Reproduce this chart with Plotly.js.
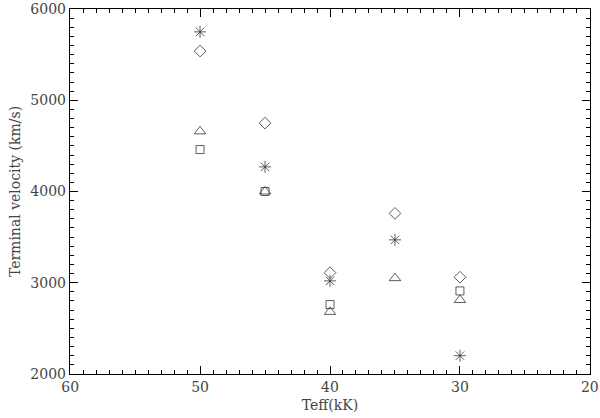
<!DOCTYPE html>
<html>
<head>
<meta charset="utf-8">
<script src="https://cdn.plot.ly/plotly-3.0.1.min.js"></script>
<style>
  html, body { margin: 0; padding: 0; background: #fff; }
  #chart { width: 600px; height: 418px; }
</style>
</head>
<body>
<div id="chart"></div>
<script>
// Teff (kK) for each model
const teff = [50, 45, 40, 35, 30];

// terminal velocities (km/s), one array per marker set
const velAsterisk = [5750, 4270, 3020, 3470, 2200];
const velDiamond  = [5540, 4750, 3110, 3760, 3060];
const velTriangle = [4660, 4000, 2680, 3050, 2810];
const velSquare   = [4460, 4000, 2760, null, 2910];

const ink = '#333';
const fontFam = 'DejaVu Serif, serif';

function serie(y, symbol, size) {
  return {
    x: teff,
    y: y,
    mode: 'markers',
    type: 'scatter',
    marker: { symbol: symbol, size: size, color: ink, line: { color: ink, width: 0.8 } },
    showlegend: false,
    hoverinfo: 'x+y'
  };
}

const traces = [
  serie(velAsterisk, 'asterisk-open', 10),
  serie(velDiamond, 'diamond-open', 9),
  serie(velTriangle, 'triangle-up-open', 10),
  serie(velSquare, 'square-open', 8)
];

const axisBase = {
  showline: true,
  linecolor: '#000',
  linewidth: 1.2,
  mirror: 'allticks',
  ticks: 'inside',
  ticklen: 8,
  tickwidth: 1,
  tickcolor: '#000',
  showgrid: false,
  zeroline: false,
  tickfont: { family: fontFam, size: 14, color: '#444' }
};

const layout = {
  width: 600,
  height: 418,
  margin: { l: 70, r: 10, t: 9, b: 44 },
  paper_bgcolor: '#fff',
  plot_bgcolor: '#fff',
  xaxis: Object.assign({}, axisBase, {
    range: [60.01, 19.99],
    tickvals: [60, 50, 40, 30, 20],
    ticktext: ['60', '50', '40', '30', '20'],
    minor: { dtick: 1, ticks: 'inside', ticklen: 4, tickcolor: '#000', tickwidth: 1 },
    title: { text: 'Teff(kK)', standoff: 6, font: { family: fontFam, size: 14, color: '#444' } }
  }),
  yaxis: Object.assign({}, axisBase, {
    range: [1999, 6001],
    tickvals: [2000, 3000, 4000, 5000, 6000],
    ticktext: ['2000', '3000', '4000', '5000', '6000'],
    minor: { dtick: 100, ticks: 'inside', ticklen: 4, tickcolor: '#000', tickwidth: 1 },
    title: { text: 'Terminal velocity (km/s)', standoff: 6, font: { family: fontFam, size: 14, color: '#444' } }
  })
};

Plotly.newPlot('chart', traces, layout, { displayModeBar: false, staticPlot: true });
</script>
</body>
</html>
